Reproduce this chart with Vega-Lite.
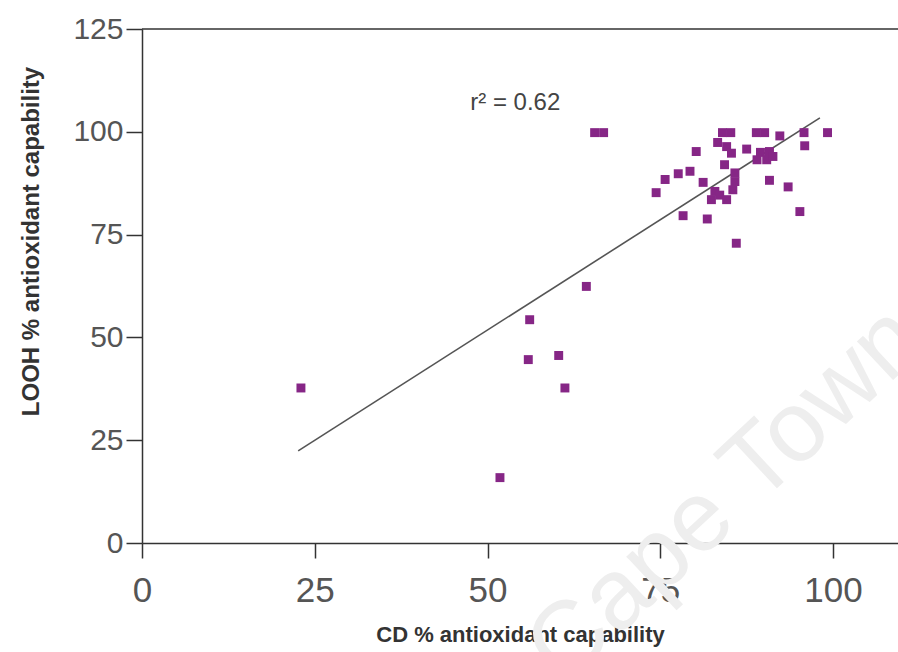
{
  "$schema": "https://vega.github.io/schema/vega-lite/v6.json",
  "width": 756,
  "height": 514,
  "autosize": {"type": "none"},
  "padding": {"left": 142, "top": 29, "right": 0, "bottom": 109},
  "background": "white",
  "config": {"view": {"stroke": null}, "font": "Liberation Sans"},
  "datasets": {
    "points": [
      {"cd": 23.0, "looh": 37.7}, {"cd": 51.8, "looh": 15.9}, {"cd": 56.1, "looh": 54.3},
      {"cd": 55.9, "looh": 44.6}, {"cd": 60.3, "looh": 45.6}, {"cd": 61.2, "looh": 37.7},
      {"cd": 64.3, "looh": 62.4}, {"cd": 65.5, "looh": 99.8}, {"cd": 66.8, "looh": 99.8},
      {"cd": 74.4, "looh": 85.2}, {"cd": 75.7, "looh": 88.4}, {"cd": 77.6, "looh": 89.8},
      {"cd": 79.3, "looh": 90.4}, {"cd": 80.2, "looh": 95.2}, {"cd": 78.3, "looh": 79.6},
      {"cd": 81.2, "looh": 87.7}, {"cd": 81.8, "looh": 78.8}, {"cd": 82.9, "looh": 85.5},
      {"cd": 82.4, "looh": 83.5}, {"cd": 83.6, "looh": 84.6}, {"cd": 84.6, "looh": 83.5},
      {"cd": 85.5, "looh": 85.9}, {"cd": 85.8, "looh": 87.9}, {"cd": 85.8, "looh": 90.0},
      {"cd": 84.3, "looh": 92.0}, {"cd": 86.0, "looh": 72.9}, {"cd": 84.0, "looh": 99.8},
      {"cd": 85.2, "looh": 99.8}, {"cd": 83.3, "looh": 97.4}, {"cd": 84.6, "looh": 96.4},
      {"cd": 85.3, "looh": 94.8}, {"cd": 87.5, "looh": 95.8}, {"cd": 88.9, "looh": 99.8},
      {"cd": 90.1, "looh": 99.8}, {"cd": 92.3, "looh": 99.0}, {"cd": 95.8, "looh": 99.8},
      {"cd": 99.2, "looh": 99.8}, {"cd": 95.9, "looh": 96.6}, {"cd": 89.5, "looh": 95.0},
      {"cd": 90.8, "looh": 95.2}, {"cd": 89.0, "looh": 93.2}, {"cd": 90.4, "looh": 93.2},
      {"cd": 91.3, "looh": 94.0}, {"cd": 90.8, "looh": 88.2}, {"cd": 93.5, "looh": 86.6},
      {"cd": 95.2, "looh": 80.6}
    ],
    "fit": [{"cd": 22.6, "looh": 22.4}, {"cd": 98.1, "looh": 103.4}],
    "frame": [{"cd": 0, "cd2": 109.4, "looh": 125}],
    "note": [{"cd": 47.5, "looh": 107, "label": "r² = 0.62"}],
    "watermark": [{"cd": 84.5, "looh": 11.7, "label": "Cape Town"}]
  },
  "encoding": {
    "x": {
      "field": "cd", "type": "quantitative",
      "scale": {"domain": [0, 109.4], "nice": false, "zero": false},
      "axis": {
        "title": "CD % antioxidant capability",
        "values": [0, 25, 50, 75, 100],
        "grid": false,
        "domainColor": "#333", "domainWidth": 1.5,
        "tickColor": "#333", "tickWidth": 1.5, "tickSize": 15,
        "labelFont": "Liberation Sans",
        "labelFontSize": 35, "labelColor": "#555", "labelPadding": 15,
        "labelFlush": false,
        "titleFont": "Liberation Sans", "titleFontWeight": "bold", "titleFontSize": 22,
        "titleColor": "#333", "titleBaseline": "middle", "titleY": 91
      }
    },
    "y": {
      "field": "looh", "type": "quantitative",
      "scale": {"domain": [0, 125], "nice": false, "zero": false},
      "axis": {
        "title": "LOOH % antioxidant capability",
        "values": [0, 25, 50, 75, 100, 125],
        "grid": false,
        "domainColor": "#333", "domainWidth": 1.5,
        "tickColor": "#333", "tickWidth": 1.5, "tickSize": 16,
        "labelFont": "Liberation Sans",
        "labelFontSize": 30, "labelColor": "#555", "labelPadding": 3,
        "labelFlush": false,
        "titleFont": "Liberation Sans", "titleFontWeight": "bold", "titleFontSize": 24,
        "titleColor": "#333", "titleBaseline": "middle", "titleAlign": "center",
        "titleAngle": -90, "titleX": -111, "titleY": 212
      }
    }
  },
  "layer": [
    {
      "data": {"name": "watermark"},
      "mark": {"type": "text", "angle": -43, "fontSize": 100, "color": "#eeeeee", "font": "Liberation Sans", "align": "center", "baseline": "middle", "clip": false},
      "encoding": {"text": {"field": "label"}}
    },
    {
      "data": {"name": "frame"},
      "mark": {"type": "rule", "color": "#333", "strokeWidth": 1.5},
      "encoding": {"x2": {"field": "cd2"}}
    },
    {
      "data": {"name": "fit"},
      "mark": {"type": "line", "color": "#555", "strokeWidth": 1.6},
      "encoding": {}
    },
    {
      "data": {"name": "points"},
      "mark": {"type": "square", "filled": true, "color": "#862686", "size": 80, "opacity": 1},
      "encoding": {}
    },
    {
      "data": {"name": "note"},
      "mark": {"type": "text", "fontSize": 24, "color": "#444", "align": "left", "baseline": "middle", "font": "Liberation Sans"},
      "encoding": {"text": {"field": "label"}}
    }
  ]
}
